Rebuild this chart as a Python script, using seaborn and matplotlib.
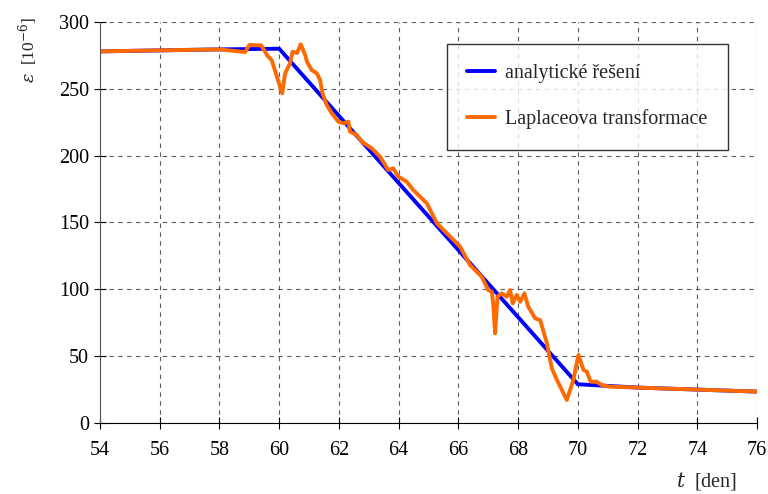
import numpy as np
import pandas as pd
import seaborn as sns
import matplotlib.pyplot as plt

# analytic solution (piecewise linear)
t_analytic = [54, 58, 60, 70, 72, 74, 76]
eps_analytic = [278, 279.5, 280, 29, 26.5, 25, 23.5]

# Laplace transform result
t_laplace = [54, 56, 58, 58.86, 59.0, 59.4, 59.6, 59.75, 60.1, 60.2, 60.36, 60.45,
             60.6, 60.72, 60.87, 60.93, 61.09, 61.26, 61.37, 61.45, 61.59, 61.76,
             61.98, 62.15, 62.32, 62.37, 62.6, 62.76, 62.93, 63.1, 63.38, 63.65,
             63.82, 63.99, 64.27, 64.49, 64.94, 65.28, 66.06, 66.39, 66.78, 67.0,
             67.12, 67.17, 67.23, 67.31, 67.45, 67.62, 67.73, 67.82, 67.95, 68.07,
             68.21, 68.34, 68.57, 68.74, 68.96, 69.13, 69.3, 69.63, 69.85, 70.02,
             70.19, 70.3, 70.43, 70.63, 70.8, 71.08, 72, 74, 76]
eps_laplace = [278, 278.8, 279.5, 277.5, 282.8, 282.5, 275, 271.4, 246.6, 261.6, 269, 277.8,
               276.8, 283.3, 275.3, 270.3, 264, 261.6, 256.6, 246.6, 238, 231.7,
               225.4, 224.2, 225.4, 218, 215.4, 210.5, 208, 205.5, 199.2, 189.3,
               190.5, 184.3, 180.5, 174.3, 164.4, 149.4, 131.9, 118.2, 109.5, 99.5,
               98.2, 88.3, 67.1, 94.5, 97, 94.5, 99.5, 89.5, 95.8, 90.7,
               97, 87, 78.3, 77, 60, 40.9, 32.2, 17.2, 32.2, 50.9,
               39.7, 38.4, 30.9, 30.9, 28.4, 27.2, 26.5, 25, 23.5]

df_a = pd.DataFrame({'t': t_analytic, 'eps': eps_analytic})
df_l = pd.DataFrame({'t': t_laplace, 'eps': eps_laplace})

sns.set_style('white')
plt.rcParams['font.family'] = ['Liberation Serif', 'DejaVu Serif']
plt.rcParams['mathtext.fontset'] = 'dejavuserif'

fig = plt.figure(figsize=(7.68, 4.94), dpi=100)
ax = fig.add_axes([0.1302, 0.1437, 0.8555, 0.8118])

sns.lineplot(data=df_a, x='t', y='eps', ax=ax, color='#0000ff', lw=2.8,
             label='analytické řešení', sort=False)
sns.lineplot(data=df_l, x='t', y='eps', ax=ax, color='#ff6a00', lw=2.8,
             label='Laplaceova transformace', sort=False)

ax.set_xlim(54, 76)
ax.set_ylim(0, 300)
ax.set_xticks(np.arange(54, 77, 2))
ax.set_yticks(np.arange(0, 301, 50))
ax.grid(True, color='#333333', linestyle=(0, (4, 4)), linewidth=0.8, alpha=0.8)
ax.set_axisbelow(True)

for side in ['top', 'right']:
    ax.spines[side].set_visible(False)
ax.spines['left'].set_color('#555555')
ax.spines['bottom'].set_color('black')
ax.tick_params(axis='both', direction='inout', length=8, width=0.8,
               labelsize=14.5, bottom=True, left=True, colors='black')
ax.tick_params(axis='x', pad=9)
ax.tick_params(axis='y', pad=4)

ax.set_xlabel('')
ax.set_ylabel('')
fig.text(0.88, 0.005, r'$t$  [den]', fontsize=14.5, ha='left', va='bottom')
fig.text(0.036, 0.9, r'$\varepsilon$  [10$^{-6}$]', fontsize=12.5, rotation=90,
         ha='center', va='center')

leg = ax.legend(loc='upper right', bbox_to_anchor=(0.965, 0.96), fontsize=14.5,
                frameon=True, fancybox=False, edgecolor='black',
                handlelength=1.4, labelspacing=1.3, borderpad=1.0,
                handletextpad=0.5, borderaxespad=0.3)
leg.get_frame().set_linewidth(1.0)

fig.savefig('out.png', dpi=100)
